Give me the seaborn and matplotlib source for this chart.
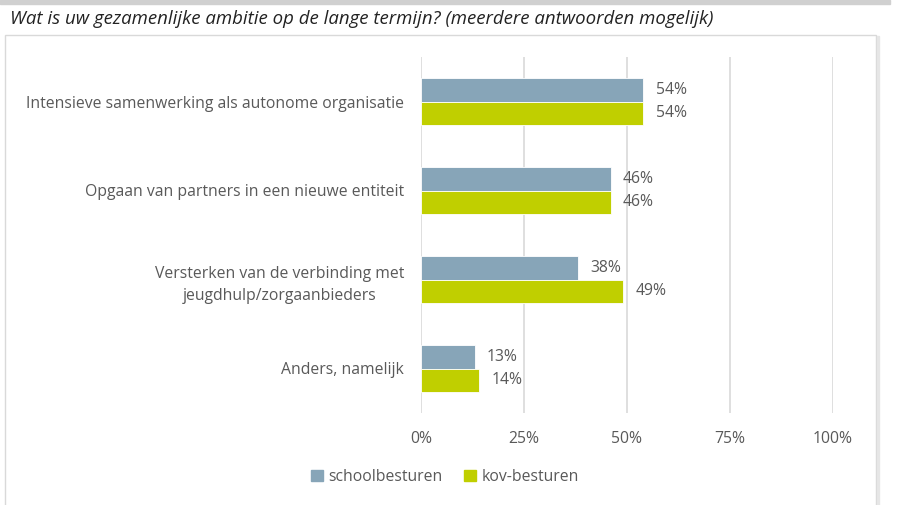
import matplotlib
matplotlib.use("Agg")
import matplotlib.pyplot as plt
import matplotlib.patches as mpatches
import seaborn as sns
import pandas as pd

categories = [
    "Intensieve samenwerking als autonome organisatie",
    "Opgaan van partners in een nieuwe entiteit",
    "Versterken van de verbinding met\njeugdhulp/zorgaanbieders",
    "Anders, namelijk",
]
series_names = ["schoolbesturen", "kov-besturen"]
schoolbesturen = [54, 46, 38, 13]
kov_besturen = [54, 46, 49, 14]
x_ticks = [0, 25, 50, 75, 100]
x_tick_labels = ["0%", "25%", "50%", "75%", "100%"]
title = "Wat is uw gezamenlijke ambitie op de lange termijn? (meerdere antwoorden mogelijk)"

colors = ["#87A5B8", "#C0CF00"]
text_color = "#595959"
fs = 11.3

df = pd.DataFrame({
    "category": categories * 2,
    "series": [series_names[0]] * 4 + [series_names[1]] * 4,
    "value": schoolbesturen + kov_besturen,
})

sns.set_theme(style="white")
plt.rcParams["font.family"] = ["Open Sans", "DejaVu Sans"]

fig = plt.figure(figsize=(9.12, 5.05), dpi=100)
W, H = 912, 505

# top grey strip
fig.patches.append(mpatches.Rectangle((0, 1 - 4 / H), 890 / W, 4 / H,
                                      transform=fig.transFigure, color="#D0D0D0", zorder=-2))
# chart frame
fig.patches.append(mpatches.Rectangle((5 / W, -0.01), 871 / W, 1 - 35 / H + 0.01,
                                      transform=fig.transFigure, facecolor="white",
                                      edgecolor="#D9D9D9", linewidth=1.0, zorder=-2))
fig.patches.append(mpatches.Rectangle((877 / W, 0), 2 / W, 1 - 36 / H,
                                      transform=fig.transFigure, color="#E6E6E6", zorder=-2))

fig.text(10 / W, 1 - 19 / H, title, fontsize=13.4, style="italic",
         color="#222222", va="center", ha="left")

ax = fig.add_axes([421 / W, 1 - 413 / H, (833 - 421) / W, (413 - 57) / H])
ax.set_zorder(5)
ax.set_facecolor("none")

sns.barplot(data=df, y="category", x="value", hue="series", orient="h",
            palette=colors, width=0.52, ax=ax, legend=False, saturation=1,
            edgecolor="white", linewidth=0.6, zorder=3)

for cont in ax.containers:
    ax.bar_label(cont, labels=[f"{v:.0f}%" for v in cont.datavalues], padding=9,
                 fontsize=fs, color=text_color)

ax.set_xlim(0, 100)
ax.set_ylim(3.5, -0.5)
ax.set_xticks(x_ticks)
ax.set_xticklabels(x_tick_labels, fontsize=fs, color=text_color)
ax.tick_params(axis="x", length=0, pad=13)
ax.tick_params(axis="y", length=0, pad=12)
ax.set_xlabel("")
ax.set_ylabel("")
for s in ax.spines.values():
    s.set_visible(False)
ax.grid(axis="x", color="#D9D9D9", linewidth=1.2, zorder=0)
ax.set_axisbelow(True)

for lab in ax.get_yticklabels():
    lab.set_fontsize(fs)
    lab.set_color(text_color)
    lab.set_multialignment("center")
    lab.set_linespacing(1.5)

handles = [mpatches.Patch(color=c, label=n) for c, n in zip(colors, series_names)]
fig.legend(handles=handles, loc="center", bbox_to_anchor=(445 / W, 1 - 477 / H),
           ncol=2, frameon=False, fontsize=fs, handlelength=0.75, handleheight=0.75,
           handletextpad=0.35, columnspacing=1.4, labelcolor=text_color)

fig.savefig("out.png", dpi=100)
